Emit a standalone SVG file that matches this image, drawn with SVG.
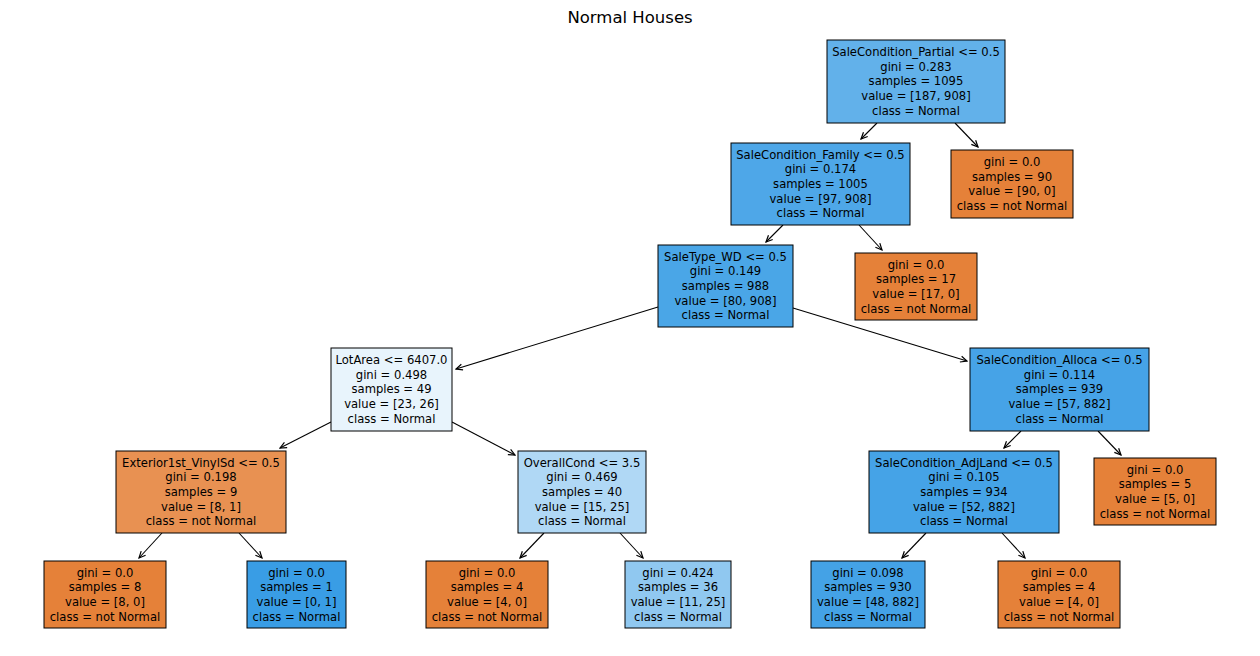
<svg xmlns="http://www.w3.org/2000/svg" width="1260" height="656" viewBox="0 0 1260 656">
<defs>
<marker id="ah" markerWidth="10" markerHeight="10" refX="8.5" refY="5" orient="auto" markerUnits="userSpaceOnUse">
<path d="M2,2 L8.5,5 L2,8" fill="none" stroke="#000" stroke-width="1.2"/>
</marker>
</defs>
<style>
rect{stroke:#000;stroke-width:1}
text{font-family:"DejaVu Sans",sans-serif;font-size:11.6px;fill:#000;text-anchor:middle}
.e line{stroke:#000;stroke-width:1.1;marker-end:url(#ah)}
.title{font-size:16.5px}
</style>
<rect x="0" y="0" width="1260" height="656" fill="#fff" style="stroke:none"/>
<text class="title" x="630" y="22.5">Normal Houses</text>
<g class="e" id="connectors">
<line x1="877" y1="123" x2="861" y2="139"/>
<line x1="955" y1="123" x2="978" y2="147"/>
<line x1="783" y1="225" x2="766" y2="242"/>
<line x1="859" y1="225" x2="882" y2="250"/>
<line x1="658" y1="307" x2="456" y2="369"/>
<line x1="793" y1="308" x2="967" y2="361"/>
<line x1="331" y1="422" x2="280" y2="448"/>
<line x1="452" y1="422" x2="515" y2="455"/>
<line x1="1021" y1="431" x2="1004" y2="448"/>
<line x1="1098" y1="431" x2="1121" y2="455"/>
<line x1="162" y1="533" x2="139" y2="558"/>
<line x1="239" y1="533" x2="262" y2="558"/>
<line x1="544" y1="533" x2="520" y2="558"/>
<line x1="620" y1="533" x2="643" y2="558"/>
<line x1="926" y1="533" x2="902" y2="558"/>
<line x1="1002" y1="533" x2="1025" y2="558"/>
</g>
<g id="n0"><rect x="827" y="40" width="178" height="83" fill="#62b1ea"/>
<text x="916" y="56">SaleCondition_Partial &lt;= 0.5</text><text x="916" y="70.7">gini = 0.283</text><text x="916" y="85.4">samples = 1095</text><text x="916" y="100.1">value = [187, 908]</text><text x="916" y="114.8">class = Normal</text></g>
<g id="n1"><rect x="731" y="143" width="179" height="82" fill="#4ea7e8"/>
<text x="820.5" y="158.5">SaleCondition_Family &lt;= 0.5</text><text x="820.5" y="173.2">gini = 0.174</text><text x="820.5" y="187.9">samples = 1005</text><text x="820.5" y="202.6">value = [97, 908]</text><text x="820.5" y="217.3">class = Normal</text></g>
<g id="n2"><rect x="951" y="150" width="122" height="68" fill="#e58139"/>
<text x="1012" y="166">gini = 0.0</text><text x="1012" y="180.7">samples = 90</text><text x="1012" y="195.4">value = [90, 0]</text><text x="1012" y="210.1">class = not Normal</text></g>
<g id="n3"><rect x="658" y="245" width="135" height="82" fill="#4aa6e7"/>
<text x="725.5" y="260.5">SaleType_WD &lt;= 0.5</text><text x="725.5" y="275.2">gini = 0.149</text><text x="725.5" y="289.9">samples = 988</text><text x="725.5" y="304.6">value = [80, 908]</text><text x="725.5" y="319.3">class = Normal</text></g>
<g id="n4"><rect x="855" y="253" width="122" height="67" fill="#e58139"/>
<text x="916" y="268.5">gini = 0.0</text><text x="916" y="283.2">samples = 17</text><text x="916" y="297.9">value = [17, 0]</text><text x="916" y="312.6">class = not Normal</text></g>
<g id="n5"><rect x="331" y="348" width="121" height="83" fill="#e8f4fc"/>
<text x="391.5" y="364">LotArea &lt;= 6407.0</text><text x="391.5" y="378.7">gini = 0.498</text><text x="391.5" y="393.4">samples = 49</text><text x="391.5" y="408.1">value = [23, 26]</text><text x="391.5" y="422.8">class = Normal</text></g>
<g id="n6"><rect x="970" y="348" width="179" height="83" fill="#46a3e7"/>
<text x="1059.5" y="364">SaleCondition_Alloca &lt;= 0.5</text><text x="1059.5" y="378.7">gini = 0.114</text><text x="1059.5" y="393.4">samples = 939</text><text x="1059.5" y="408.1">value = [57, 882]</text><text x="1059.5" y="422.8">class = Normal</text></g>
<g id="n7"><rect x="116" y="451" width="170" height="82" fill="#e89152"/>
<text x="201" y="466.5">Exterior1st_VinylSd &lt;= 0.5</text><text x="201" y="481.2">gini = 0.198</text><text x="201" y="495.9">samples = 9</text><text x="201" y="510.6">value = [8, 1]</text><text x="201" y="525.3">class = not Normal</text></g>
<g id="n8"><rect x="518" y="451" width="128" height="82" fill="#b0d8f5"/>
<text x="582" y="466.5">OverallCond &lt;= 3.5</text><text x="582" y="481.2">gini = 0.469</text><text x="582" y="495.9">samples = 40</text><text x="582" y="510.6">value = [15, 25]</text><text x="582" y="525.3">class = Normal</text></g>
<g id="n9"><rect x="869" y="451" width="190" height="82" fill="#45a3e7"/>
<text x="964" y="466.5">SaleCondition_AdjLand &lt;= 0.5</text><text x="964" y="481.2">gini = 0.105</text><text x="964" y="495.9">samples = 934</text><text x="964" y="510.6">value = [52, 882]</text><text x="964" y="525.3">class = Normal</text></g>
<g id="n10"><rect x="1094" y="458" width="122" height="67" fill="#e58139"/>
<text x="1155" y="473.5">gini = 0.0</text><text x="1155" y="488.2">samples = 5</text><text x="1155" y="502.9">value = [5, 0]</text><text x="1155" y="517.6">class = not Normal</text></g>
<g id="n11"><rect x="44" y="561" width="122" height="67" fill="#e58139"/>
<text x="105" y="576.5">gini = 0.0</text><text x="105" y="591.2">samples = 8</text><text x="105" y="605.9">value = [8, 0]</text><text x="105" y="620.6">class = not Normal</text></g>
<g id="n12"><rect x="247" y="561" width="99" height="67" fill="#399de5"/>
<text x="296.5" y="576.5">gini = 0.0</text><text x="296.5" y="591.2">samples = 1</text><text x="296.5" y="605.9">value = [0, 1]</text><text x="296.5" y="620.6">class = Normal</text></g>
<g id="n13"><rect x="426" y="561" width="122" height="67" fill="#e58139"/>
<text x="487" y="576.5">gini = 0.0</text><text x="487" y="591.2">samples = 4</text><text x="487" y="605.9">value = [4, 0]</text><text x="487" y="620.6">class = not Normal</text></g>
<g id="n14"><rect x="625" y="561" width="106" height="67" fill="#90c8f0"/>
<text x="678" y="576.5">gini = 0.424</text><text x="678" y="591.2">samples = 36</text><text x="678" y="605.9">value = [11, 25]</text><text x="678" y="620.6">class = Normal</text></g>
<g id="n15"><rect x="811" y="561" width="114" height="67" fill="#44a2e6"/>
<text x="868" y="576.5">gini = 0.098</text><text x="868" y="591.2">samples = 930</text><text x="868" y="605.9">value = [48, 882]</text><text x="868" y="620.6">class = Normal</text></g>
<g id="n16"><rect x="998" y="561" width="122" height="67" fill="#e58139"/>
<text x="1059" y="576.5">gini = 0.0</text><text x="1059" y="591.2">samples = 4</text><text x="1059" y="605.9">value = [4, 0]</text><text x="1059" y="620.6">class = not Normal</text></g>
</svg>
